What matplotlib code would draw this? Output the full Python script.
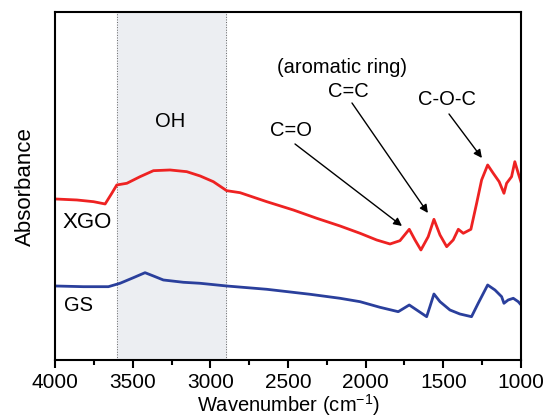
import numpy as np
import matplotlib.pyplot as plt

plt.rcParams['font.family'] = ['Liberation Sans', 'DejaVu Sans']

# XGO spectrum (wavenumber, absorbance in arbitrary units, offset)
xgo_wn = [4000, 3860, 3753, 3678, 3635, 3603, 3538, 3453, 3367, 3260, 3152, 3066,
          2981, 2895, 2809, 2637, 2466, 2315, 2165, 2036, 1929, 1843, 1779, 1719,
          1682, 1644, 1597, 1560, 1521, 1478, 1436, 1403, 1371, 1322, 1285, 1253,
          1214, 1178, 1140, 1109, 1092, 1060, 1039, 1017, 1000]
xgo_abs = [-199, -200, -201.7, -204, -193.3, -185, -183.3, -176.7, -170.7, -170,
           -171.7, -176, -181.7, -190.7, -192.7, -201.7, -210, -218.3, -226, -233.3,
           -240, -244, -240.7, -229.3, -240, -250, -236.7, -219.3, -235, -246.7,
           -240, -229.3, -233.3, -229.3, -203.3, -180, -165, -173.3, -181.7, -193.3,
           -183.3, -176.7, -161.7, -173.3, -181.7]

# GS spectrum
gs_wn = [4000, 3818, 3657, 3582, 3496, 3421, 3367, 3303, 3174, 3066, 2895, 2637,
         2358, 2165, 2036, 1908, 1790, 1719, 1671, 1607, 1586, 1560, 1521, 1457,
         1393, 1318, 1275, 1214, 1167, 1124, 1109, 1082, 1049, 1017, 1000]
gs_abs = [-286, -286.7, -286.7, -283.3, -277.7, -272.7, -276, -280, -282.3, -283.3,
          -286, -289.3, -294.3, -298.3, -301.7, -307.3, -311.7, -305, -310, -316.7,
          -306.7, -294, -301.7, -310, -314, -316.7, -303.3, -285, -290, -296.7,
          -303.3, -300, -298.3, -301.7, -304.7]

oh_band = (3600, 2900)

fig = plt.figure(figsize=(5.46, 4.2), dpi=100)
ax = fig.add_axes([0.101, 0.1417, 0.853, 0.8286])

ax.axvspan(oh_band[0], oh_band[1], color='#eceef2', zorder=0)
for b in oh_band:
    ax.axvline(b, color='#666666', lw=0.7, ls=':', zorder=1)

ax.plot(xgo_wn, xgo_abs, color='#ee2222', lw=2)
ax.plot(gs_wn, gs_abs, color='#2a3f9c', lw=2)

ax.set_xlim(4000, 1000)
ax.set_ylim(-360.5, -12.5)
ax.set_xticks([4000, 3500, 3000, 2500, 2000, 1500, 1000])
ax.set_xticks(np.arange(1250, 4000, 500), minor=True)
ax.set_yticks([])
ax.tick_params(axis='x', which='major', direction='out', length=6, width=1.5,
               labelsize=15, pad=3)
ax.tick_params(axis='x', which='minor', direction='out', length=3.5, width=1.5)
for s in ax.spines.values():
    s.set_linewidth(1.5)

ax.set_xlabel('Wavenumber (cm$^{\\mathregular{-1}}$)', fontsize=14.5, labelpad=0)
ax.set_ylabel('Absorbance', fontsize=16, labelpad=14)

fs = 14.5
ax.text(3260, -122, 'OH', fontsize=fs, ha='center', va='center')
ax.text(3791, -223, 'XGO', fontsize=16, ha='center', va='center')
ax.text(3849, -306, 'GS', fontsize=fs, ha='center', va='center')
ax.text(2152, -68, '(aromatic ring)', fontsize=fs, ha='center', va='center')
ax.text(2114, -92, 'C=C', fontsize=fs, ha='center', va='center')
ax.text(2481, -131, 'C=O', fontsize=fs, ha='center', va='center')
ax.text(1476, -100, 'C-O-C', fontsize=fs, ha='center', va='center')

arr = dict(arrowstyle='-|>', color='black', lw=1, mutation_scale=12,
           shrinkA=0, shrinkB=0)
ax.annotate('', xy=(1766, -226), xytext=(2455, -144), arrowprops=arr)
ax.annotate('', xy=(1599, -213), xytext=(2088, -103), arrowprops=arr)
ax.annotate('', xy=(1251, -158), xytext=(1463, -114), arrowprops=arr)

fig.savefig('out.png', dpi=100)
